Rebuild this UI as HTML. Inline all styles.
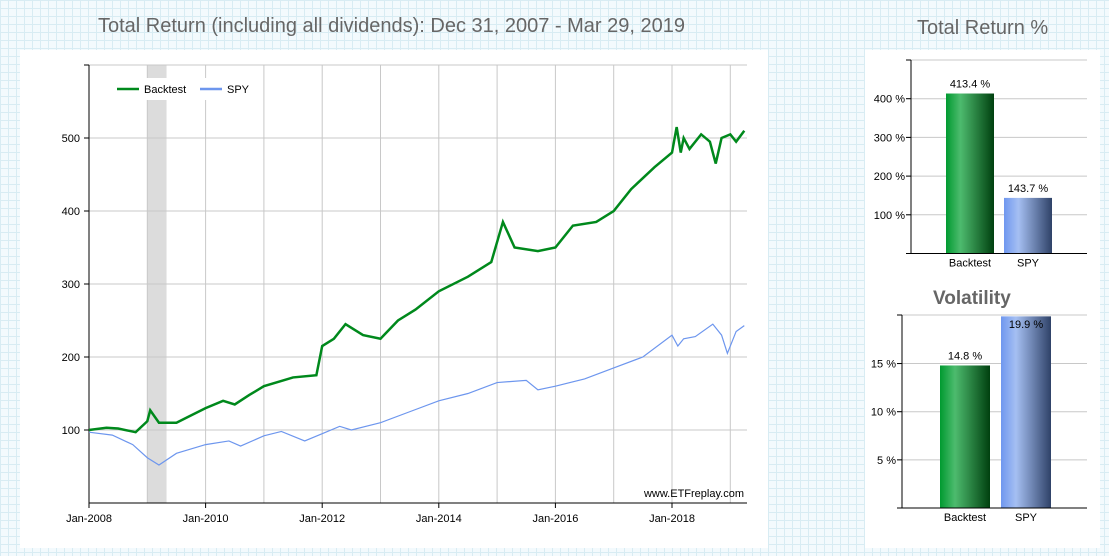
<!DOCTYPE html>
<html><head><meta charset="utf-8"><style>
body{margin:0;width:1109px;height:556px;overflow:hidden;font-family:"Liberation Sans",sans-serif;
background-color:#f3fafd;background-image:linear-gradient(#d8ecf3 1px,transparent 1px),linear-gradient(90deg,#d8ecf3 1px,transparent 1px);background-size:8px 8px;position:relative}
.panel{position:absolute;background:#fff}
.t{position:absolute;color:#666;font-size:20px;white-space:nowrap}
svg text{font-family:"Liberation Sans",sans-serif}
</style></head><body>
<div class="t" style="left:98px;top:15px">Total Return (including all dividends): Dec 31, 2007 - Mar 29, 2019</div>
<div class="t" style="left:917px;top:17px">Total Return %</div>
<div class="panel" style="left:20px;top:50px;width:748px;height:498px"></div>
<div class="panel" style="left:865px;top:50px;width:235px;height:498px"></div>
<svg id="s" width="1109" height="556" style="position:absolute;left:0;top:0">
<defs>
<linearGradient id="gg" x1="0" x2="1"><stop offset="0" stop-color="#009a30"/><stop offset="0.3" stop-color="#4dbb6e"/><stop offset="1" stop-color="#00400f"/></linearGradient>
<linearGradient id="bg" x1="0" x2="1"><stop offset="0" stop-color="#6f97ef"/><stop offset="0.3" stop-color="#a5bff2"/><stop offset="1" stop-color="#2f4268"/></linearGradient>
</defs>
<g id="main"></g><g id="b1"></g><g id="b2"></g>
<text x="933" y="304" font-size="19" font-weight="bold" fill="#666">Volatility</text>
</svg>
<script>
const yTicks=[100,200,300,400,500];
const xLabels=["Jan-2008","Jan-2010","Jan-2012","Jan-2014","Jan-2016","Jan-2018"];
const btT=[2008,2008.3,2008.5,2008.8,2009.0,2009.05,2009.2,2009.5,2009.7,2010,2010.3,2010.5,2010.75,2011,2011.5,2011.9,2012,2012.2,2012.4,2012.7,2013,2013.3,2013.6,2014,2014.5,2014.9,2015.1,2015.3,2015.7,2016,2016.3,2016.7,2017,2017.3,2017.7,2018,2018.08,2018.15,2018.2,2018.3,2018.5,2018.65,2018.75,2018.85,2019,2019.1,2019.24];
const btV=[100,103,102,97,112,127,110,110,118,130,140,135,148,160,172,175,215,225,245,230,225,250,265,290,310,330,385,350,345,350,380,385,400,430,460,480,515,480,500,485,505,495,465,500,505,495,510];
const spT=[2008,2008.4,2008.75,2009.0,2009.2,2009.5,2010,2010.4,2010.6,2011,2011.3,2011.7,2012,2012.3,2012.5,2013,2013.5,2014,2014.5,2015,2015.5,2015.7,2016,2016.5,2017,2017.5,2018,2018.1,2018.2,2018.4,2018.7,2018.85,2018.95,2019.1,2019.24];
const spV=[97,93,80,62,52,68,80,85,78,92,98,85,95,105,100,110,125,140,150,165,168,155,160,170,185,200,230,215,225,228,245,230,205,235,243];
const retCats=["Backtest","SPY"],retVals=[413.4,143.7],retTicks=[100,200,300,400];
const volVals=[14.8,19.9],volTicks=[5,10,15];
const NS="http://www.w3.org/2000/svg";
function mk(p,tag,a,txt){const e=document.createElementNS(NS,tag);for(const k in a)e.setAttribute(k,a[k]);if(txt!==undefined)e.textContent=txt;p.appendChild(e);return e;}
const m=document.getElementById('main');
const X=t=>89+(t-2008)*58.3, Y=v=>503-v*0.73;
let e=mk(m,'rect',{x:X(2009),y:65,width:X(2009.33)-X(2009),height:438,fill:'#dcdcdc'});

for(let yr=2009;yr<=2019;yr++){e=mk(m,'line',{x1:X(yr),x2:X(yr),y1:65,y2:503,stroke:'#c8c8c8'});}
mk(m,'line',{x1:89,x2:747,y1:65,y2:65,stroke:'#c8c8c8'});
yTicks.forEach(v=>{e=mk(m,'line',{x1:84,x2:747,y1:Y(v),y2:Y(v),stroke:'#c8c8c8'});
 mk(m,'line',{x1:84,x2:89,y1:Y(v),y2:Y(v),stroke:'#000'});
 e=mk(m,'text',{x:80,y:Y(v)+4,'font-size':11,'text-anchor':'end'},v);});
mk(m,'line',{x1:84,x2:89,y1:65,y2:65,stroke:'#000'});
mk(m,'line',{x1:89,x2:89,y1:65,y2:503,stroke:'#000'});
mk(m,'line',{x1:89,x2:747,y1:503,y2:503,stroke:'#000'});
xLabels.forEach((l,i)=>{const x=X(2008+2*i);mk(m,'line',{x1:x,x2:x,y1:503,y2:508,stroke:'#000'});
 e=mk(m,'text',{x:x,y:522,'font-size':11,'text-anchor':'middle'},l);});
e=mk(m,'rect',{x:112,y:78,width:140,height:22,fill:'#fff'});
e=mk(m,'polyline',{points:spT.map((t,i)=>X(t)+','+Y(spV[i])).join(' '),fill:'none',stroke:'#6d96ee','stroke-width':1.2});

e=mk(m,'polyline',{points:btT.map((t,i)=>X(t)+','+Y(btV[i])).join(' '),fill:'none',stroke:'#00891c','stroke-width':2.5});

mk(m,'line',{x1:117,x2:139,y1:89,y2:89,stroke:'#00891c','stroke-width':2.5});
e=mk(m,'text',{x:144,y:93,'font-size':11},'Backtest');
mk(m,'line',{x1:200,x2:222,y1:89,y2:89,stroke:'#6d96ee','stroke-width':2.5});
e=mk(m,'text',{x:227,y:93,'font-size':11},'SPY');
e=mk(m,'text',{x:744,y:497,'font-size':11,'text-anchor':'end'},'www.ETFreplay.com');
function bars(g,ax,top,bot,right,scale,vals,ticks,bx,bw){
 const Yb=v=>bot-v*scale;
 mk(g,'line',{x1:ax,x2:right,y1:top,y2:top,stroke:'#c8c8c8'});
 ticks.forEach(v=>{mk(g,'line',{x1:ax-5,x2:right,y1:Yb(v),y2:Yb(v),stroke:'#c8c8c8'});mk(g,'line',{x1:ax-5,x2:ax,y1:Yb(v),y2:Yb(v),stroke:'#000'});
  e=mk(g,'text',{x:ax-6,y:Yb(v)+4,'font-size':11,'text-anchor':'end'},v+' %');});
 vals.forEach((v,i)=>{const h=Math.min(v*scale,bot-top);
  e=mk(g,'rect',{x:bx[i],y:bot-h,width:bw,height:h,fill:i?'url(#bg)':'url(#gg)'});
  const ly=(bot-v*scale<top+12)?top+13:bot-h-6;
  e=mk(g,'text',{x:bx[i]+bw/2,y:ly,'font-size':11,'text-anchor':'middle'},v.toFixed(1)+' %');
  e=mk(g,'text',{x:bx[i]+bw/2,y:bot+13,'font-size':11,'text-anchor':'middle'},retCats[i]);});
 mk(g,'line',{x1:ax,x2:ax,y1:top,y2:bot,stroke:'#000'});mk(g,'line',{x1:ax-5,x2:ax,y1:top,y2:top,stroke:'#000'});
 mk(g,'line',{x1:ax-5,x2:right,y1:bot,y2:bot,stroke:'#000'});
}
bars(document.getElementById('b1'),911,60,253.5,1087,0.387,retVals,retTicks,[946,1004],48);
bars(document.getElementById('b2'),902,315,508,1087,9.63,volVals,volTicks,[940,1001],50);
</script>
</body></html>
